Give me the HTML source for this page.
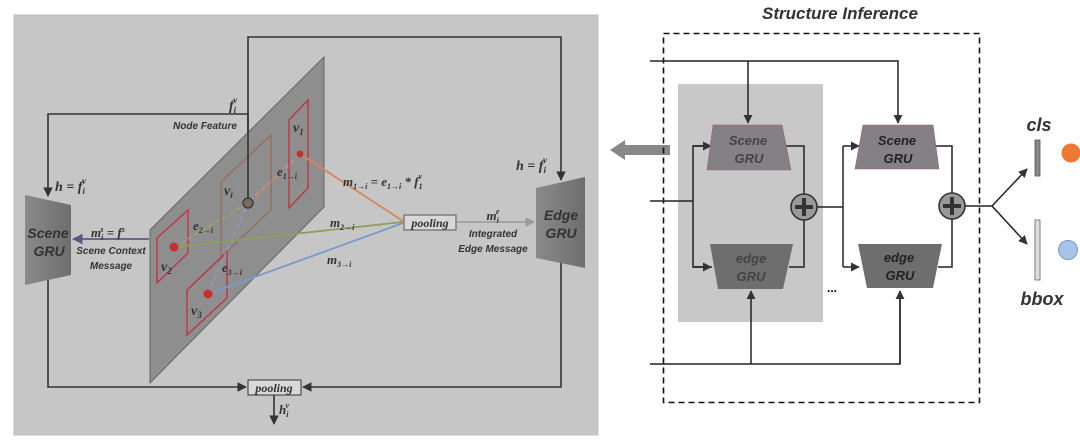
<!DOCTYPE html>
<html><head><meta charset="utf-8"><style>
html,body{margin:0;padding:0;background:#fff;width:1080px;height:442px;overflow:hidden}
svg{display:block}
text{font-family:"Liberation Sans",sans-serif}
.m{font-family:"Liberation Serif",serif;font-style:italic;font-weight:bold;fill:#333}
.l{font-style:italic;font-weight:bold;fill:#333}
</style></head><body>
<svg width="1080" height="442" viewBox="0 0 1080 442" xmlns="http://www.w3.org/2000/svg">
<defs>
<marker id="a" viewBox="0 0 10 10" refX="9" refY="5" markerWidth="6" markerHeight="6" orient="auto"><path d="M0,0L10,5L0,10z" fill="#333"/></marker>
<marker id="ag" viewBox="0 0 10 10" refX="9" refY="5" markerWidth="6" markerHeight="6" orient="auto"><path d="M0,0L10,5L0,10z" fill="#999"/></marker>
<marker id="ap" viewBox="0 0 10 10" refX="9" refY="5" markerWidth="6" markerHeight="6" orient="auto"><path d="M0,0L10,5L0,10z" fill="#5a5a80"/></marker>
<linearGradient id="gr" x1="0" x2="1"><stop offset="0" stop-color="#8a8a8a"/><stop offset="1" stop-color="#6e6e6e"/></linearGradient>
</defs>
<rect x="14" y="15" width="584" height="420" fill="#c6c6c6" stroke="#bdbdbd"/>
<g stroke="#333" stroke-width="1.6" fill="none">
<polyline points="248,203 248,37 561,37 561,180" marker-end="url(#a)"/>
<polyline points="248,114 48,114 48,196" marker-end="url(#a)"/>
<polyline points="48,280 48,387 246,387" marker-end="url(#a)"/>
<polyline points="561,262 561,387 303,387" marker-end="url(#a)"/>
<line x1="274" y1="395" x2="274" y2="424" marker-end="url(#a)"/>
</g>
<polygon points="150,230 324,57 324,207 150,383" fill="#8e8e8e" stroke="#666"/>
<g fill="none" stroke-width="1.3">
<polygon points="221,182 271,135 271,210 221,257" stroke="#9a6a5a"/>
<polygon points="289,120 308,100 308,188 289,208" stroke="#c03040"/>
<polygon points="157,238 188,210 188,253 157,283" stroke="#c03040"/>
<polygon points="187,290 227,252 227,298 187,335" stroke="#c03040"/>
</g>
<line x1="248" y1="114" x2="248" y2="203" stroke="#333" stroke-width="1.6"/>
<g stroke-width="1.4" stroke-dasharray="5,3" fill="none">
<line x1="300" y1="154" x2="248" y2="203" stroke="#d89070"/>
<line x1="174" y1="247" x2="248" y2="203" stroke="#9aa870"/>
<line x1="208" y1="294" x2="248" y2="203" stroke="#8aa0c0"/>
</g>
<g stroke-width="1.8" fill="none">
<line x1="300" y1="154" x2="403" y2="221" stroke="#d8845a"/>
<line x1="174" y1="247" x2="403" y2="222" stroke="#8aa060"/>
<line x1="208" y1="294" x2="403" y2="223" stroke="#7a9ac8"/>
</g>
<circle cx="300" cy="154" r="3.5" fill="#c83030"/>
<circle cx="174" cy="247" r="4.5" fill="#c83030"/>
<circle cx="208" cy="294" r="4.5" fill="#c83030"/>
<circle cx="248" cy="203" r="5" fill="#7a6a60" stroke="#333" stroke-width="1.2"/>
<polygon points="25,195 71,205 71,275 25,285" fill="url(#gr)"/>
<text x="48" y="238" text-anchor="middle" font-size="14" class="l">Scene</text>
<text x="49" y="256" text-anchor="middle" font-size="14" class="l">GRU</text>
<polygon points="536,188 585,177 585,268 536,258" fill="url(#gr)"/>
<text x="561" y="220" text-anchor="middle" font-size="14" class="l">Edge</text>
<text x="561" y="238" text-anchor="middle" font-size="14" class="l">GRU</text>
<rect x="404" y="215" width="52" height="15" fill="#d8d8d8" stroke="#555"/>
<text x="430" y="227" text-anchor="middle" font-size="12" class="m">pooling</text>
<rect x="248" y="380" width="53" height="15" fill="#d8d8d8" stroke="#333"/>
<text x="274" y="392" text-anchor="middle" font-size="12" class="m">pooling</text>
<line x1="456" y1="222" x2="534" y2="222" stroke="#999" stroke-width="1.6" marker-end="url(#ag)"/>
<line x1="149" y1="239" x2="73" y2="239" stroke="#5a5a80" stroke-width="1.8" marker-end="url(#ap)"/>
<text x="229" y="110" font-size="14" class="m">f<tspan font-size="9" dy="3">i</tspan><tspan font-size="9" dy="-10" dx="-3">v</tspan></text>
<text x="173" y="129" font-size="10" class="l">Node Feature</text>
<text x="55" y="191" font-size="14" class="m">h = f<tspan font-size="9" dy="3">i</tspan><tspan font-size="9" dy="-10" dx="-3">v</tspan></text>
<text x="516" y="170" font-size="14" class="m">h = f<tspan font-size="9" dy="3">i</tspan><tspan font-size="9" dy="-10" dx="-3">v</tspan></text>
<text x="91" y="237" font-size="13" class="m">m<tspan font-size="8" dy="3">i</tspan><tspan font-size="8" dy="-8" dx="-3">s</tspan><tspan dy="5"> = f</tspan><tspan font-size="8" dy="-5">s</tspan></text>
<text x="111" y="254" text-anchor="middle" font-size="10" class="l">Scene Context</text>
<text x="111" y="269" text-anchor="middle" font-size="10" class="l">Message</text>
<text x="493" y="220" text-anchor="middle" font-size="13" class="m">m<tspan font-size="8" dy="3">i</tspan><tspan font-size="8" dy="-9" dx="-3">e</tspan></text>
<text x="493" y="237" text-anchor="middle" font-size="10" class="l">Integrated</text>
<text x="493" y="252" text-anchor="middle" font-size="10" class="l">Edge Message</text>
<text x="343" y="186" font-size="13" class="m">m<tspan font-size="8" dy="3">1→i</tspan><tspan dy="-3"> = e</tspan><tspan font-size="8" dy="3">1→i</tspan><tspan dy="-3"> * f</tspan><tspan font-size="8" dy="3">1</tspan><tspan font-size="8" dy="-10" dx="-4">v</tspan></text>
<text x="330" y="227" font-size="13" class="m">m<tspan font-size="8" dy="3">2→i</tspan></text>
<text x="327" y="264" font-size="13" class="m">m<tspan font-size="8" dy="3">3→i</tspan></text>
<text x="277" y="176" font-size="13" class="m">e<tspan font-size="8" dy="3">1→i</tspan></text>
<text x="193" y="230" font-size="13" class="m">e<tspan font-size="8" dy="3">2→i</tspan></text>
<text x="222" y="272" font-size="13" class="m">e<tspan font-size="8" dy="3">3→i</tspan></text>
<text x="293" y="132" font-size="14" class="m">v<tspan font-size="9" dy="3">1</tspan></text>
<text x="224" y="195" font-size="14" class="m">v<tspan font-size="9" dy="3">i</tspan></text>
<text x="161" y="271" font-size="14" class="m">v<tspan font-size="9" dy="3">2</tspan></text>
<text x="191" y="315" font-size="14" class="m">v<tspan font-size="9" dy="3">3</tspan></text>
<text x="279" y="414" font-size="13" class="m">h<tspan font-size="8" dy="3">i</tspan><tspan font-size="8" dy="-9" dx="-3">v</tspan></text>

<text x="840" y="19" text-anchor="middle" font-size="17" class="l" fill="#111">Structure Inference</text>
<polygon points="610,150 625,140 625,145 670,145 670,155 625,155 625,160" fill="#888"/>
<rect x="678" y="84" width="145" height="238" fill="#c8c8c8"/>
<rect x="663.5" y="33.5" width="316" height="369" fill="none" stroke="#111" stroke-width="1.6" stroke-dasharray="6,4"/>
<g stroke="#222" stroke-width="1.5" fill="none">
<polyline points="650,61 898,61 898,123" marker-end="url(#a)"/>
<line x1="748" y1="61" x2="748" y2="123" marker-end="url(#a)"/>
<line x1="650" y1="201" x2="693" y2="201"/>
<polyline points="712,146 693,146 693,267 712,267"/>
<line x1="693" y1="146" x2="711" y2="146" marker-end="url(#a)"/>
<line x1="693" y1="267" x2="711" y2="267" marker-end="url(#a)"/>
<polyline points="786,146 804,146 804,267 789,267"/>
<line x1="817" y1="207" x2="843" y2="207"/>
<polyline points="843,146 843,267"/>
<line x1="843" y1="146" x2="859" y2="146" marker-end="url(#a)"/>
<line x1="843" y1="267" x2="859" y2="267" marker-end="url(#a)"/>
<polyline points="935,146 952,146 952,267 938,267"/>
<line x1="965" y1="206" x2="992" y2="206"/>
<line x1="992" y1="206" x2="1027" y2="169" marker-end="url(#a)"/>
<line x1="992" y1="206" x2="1027" y2="244" marker-end="url(#a)"/>
<polyline points="650,364 900,364 900,291"/>
<line x1="900" y1="364" x2="900" y2="291" marker-end="url(#a)"/>
<line x1="751" y1="364" x2="751" y2="291" marker-end="url(#a)"/>
</g>
<g fill="#6e6e6e">
<polygon points="713,125 782,125 791,170 707,170" fill="#858085" stroke="#a06070" stroke-width="0.6"/>
<polygon points="710,244 793,244 783,289 718,289"/>
<polygon points="863,125 933,125 939,169 855,169" fill="#858085" stroke="#a06070" stroke-width="0.6"/>
<polygon points="858,244 942,244 933,288 867,288"/>
</g>
<g font-size="13" text-anchor="middle" class="l">
<text x="748" y="145" fill="#444">Scene</text><text x="749" y="163" fill="#444">GRU</text>
<text x="751" y="263" fill="#444">edge</text><text x="751" y="281" fill="#444">GRU</text>
<text x="897" y="145" fill="#222">Scene</text><text x="898" y="163" fill="#222">GRU</text>
<text x="899" y="262" fill="#222">edge</text><text x="900" y="280" fill="#222">GRU</text>
</g>
<g stroke="#333" stroke-width="1.6" fill="#999">
<circle cx="804" cy="207" r="13"/><circle cx="952" cy="206" r="13"/>
</g>
<g stroke="#333" stroke-width="4">
<line x1="795" y1="207" x2="813" y2="207"/><line x1="804" y1="198" x2="804" y2="216"/>
<line x1="943" y1="206" x2="961" y2="206"/><line x1="952" y1="197" x2="952" y2="215"/>
</g>
<text x="832" y="292" font-size="12" font-weight="bold" text-anchor="middle">...</text>
<rect x="1035" y="140" width="5" height="36" fill="#888" stroke="#555" stroke-width="0.8"/>
<rect x="1035" y="220" width="5" height="60" fill="#ddd" stroke="#666" stroke-width="0.8"/>
<text x="1039" y="131" text-anchor="middle" font-size="18" class="l" fill="#111">cls</text>
<text x="1042" y="305" text-anchor="middle" font-size="18" class="l" fill="#111">bbox</text>
<circle cx="1071" cy="153" r="9.5" fill="#ec7a30"/>
<circle cx="1068" cy="250" r="9.5" fill="#a8c4e8" stroke="#7a9ac0"/>
</svg>
</body></html>
